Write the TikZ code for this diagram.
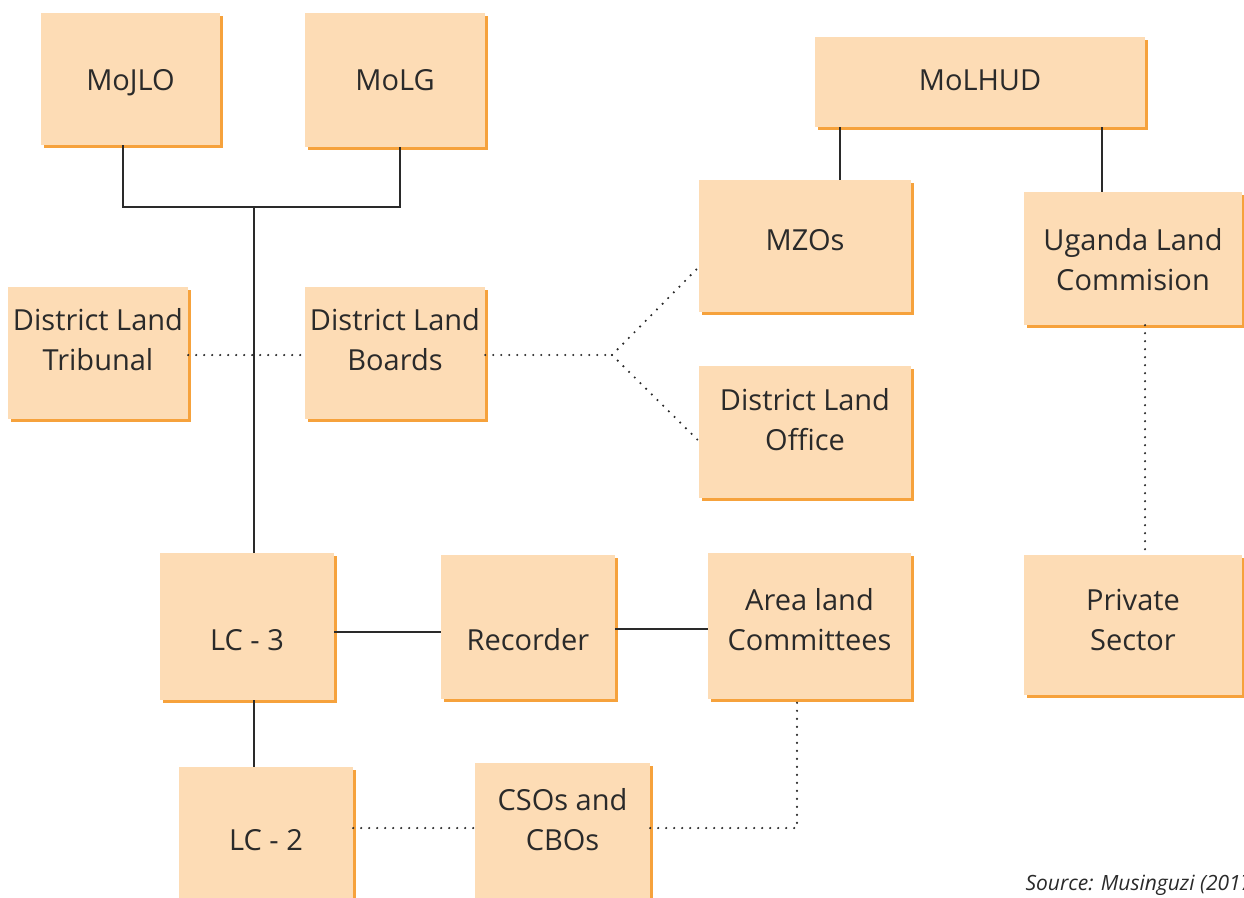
\documentclass[tikz,border=0pt]{standalone}
\usepackage{fontspec}
\setmainfont{Open Sans}
\usetikzlibrary{shadows}

\definecolor{boxfill}{HTML}{FDDCB5}
\definecolor{boxshade}{HTML}{F6A23C}
\definecolor{ink}{HTML}{2A2A2A}

\begin{document}
\begin{tikzpicture}[x=1pt, y=-1pt,
    orgbox/.style={fill=boxfill, draw=none, inner sep=0pt,
      drop shadow={shadow xshift=2.5pt, shadow yshift=-2.5pt, fill=boxshade, opacity=1}},
    orgtext/.style={inner sep=0pt, align=center, text=ink, font=\fontsize{29}{40}\selectfont},
    link/.style={draw=ink, line width=1.3pt},
    dotlink/.style={draw=ink, line width=2.4pt, line cap=round, dash pattern=on 0pt off 8pt}]
  \useasboundingbox (0,0) rectangle (1244,897);
  % ministries
  \node (mojlo) [orgbox, minimum width=179pt, minimum height=132pt] at (130.5,79) {};
  \node (mojlo-t) [orgtext] at (130.5,83) {MoJLO};
  \node (molg) [orgbox, minimum width=180pt, minimum height=134pt] at (395,80) {};
  \node (molg-t) [orgtext] at (395,80) {MoLG};
  \node (molhud) [orgbox, minimum width=330pt, minimum height=90pt] at (980,82) {};
  \node (molhud-t) [orgtext] at (980,80) {MoLHUD};
  % district level
  \node (mzos) [orgbox, minimum width=212pt, minimum height=132pt] at (805,246) {};
  \node (mzos-t) [orgtext] at (805,240) {MZOs};
  \node (ulc) [orgbox, minimum width=218pt, minimum height=133pt] at (1133,258.5) {};
  \node (ulc-t) [orgtext] at (1133,259.5) {Uganda Land\\Commision};
  \node (dlt) [orgbox, minimum width=180pt, minimum height=132pt] at (98,353) {};
  \node (dlt-t) [orgtext] at (98,340) {District Land\\Tribunal};
  \node (dlb) [orgbox, minimum width=180pt, minimum height=132pt] at (395,353) {};
  \node (dlb-t) [orgtext] at (395,340) {District Land\\Boards};
  \node (dlo) [orgbox, minimum width=212pt, minimum height=132pt] at (805,432) {};
  \node (dlo-t) [orgtext] at (805,420) {District Land\\Office};
  % local level
  \node (lc3) [orgbox, minimum width=174pt, minimum height=147pt] at (247,626.5) {};
  \node (lc3-t) [orgtext] at (247,640) {LC - 3};
  \node (rec) [orgbox, minimum width=174pt, minimum height=144pt] at (528,627) {};
  \node (rec-t) [orgtext] at (528,640) {Recorder};
  \node (alc) [orgbox, minimum width=203pt, minimum height=146pt] at (809.5,626) {};
  \node (alc-t) [orgtext] at (809.5,620) {Area land\\Committees};
  \node (ps) [orgbox, minimum width=218pt, minimum height=140pt] at (1133,625) {};
  \node (ps-t) [orgtext] at (1133,620) {Private\\Sector};
  \node (lc2) [orgbox, minimum width=174pt, minimum height=146pt] at (266,840) {};
  \node (lc2-t) [orgtext] at (266,840) {LC - 2};
  \node (cso) [orgbox, minimum width=175pt, minimum height=146pt] at (562.5,836) {};
  \node (cso-t) [orgtext] at (562.5,820) {CSOs and\\CBOs};

  \coordinate (join) at (254,207);
  \coordinate (fork) at (612,355);

  % solid links
  \draw[link] ([xshift=-7.5pt]mojlo.south) |- (join) -| ([xshift=5pt]molg.south);
  \draw[link] (join) -- (join |- lc3.north);
  \draw[link] ([xshift=7pt]lc3.south) -- ([xshift=7pt]lc3.south |- lc2.north);
  \draw[link] ([yshift=-5.5pt]lc3.east) -- ([yshift=-5.5pt]lc3.east -| rec.west);
  \draw[link] ([yshift=-2pt]rec.east) -- ([yshift=-2pt]rec.east -| alc.west);
  \draw[link] ([xshift=-140pt]molhud.south) -- ([xshift=-140pt]molhud.south |- mzos.north);
  \draw[link] ([xshift=122pt]molhud.south) -- ([xshift=122pt]molhud.south |- ulc.north);

  % dotted links
  \draw[dotlink] ([yshift=-2pt]dlt.east) -- ([yshift=-2pt]dlb.west);
  \draw[dotlink] ([yshift=-2pt]dlb.east) -- (fork);
  \draw[dotlink] (fork) -- ([yshift=-21pt]mzos.west);
  \draw[dotlink] (fork) -- ([yshift=-9pt]dlo.west);
  \draw[dotlink] ([xshift=12pt]ulc.south) -- ([xshift=12pt]ulc.south |- ps.north);
  \draw[dotlink] ([yshift=12pt]lc2.east) -- ([yshift=12pt]lc2.east -| cso.west);
  \draw[dotlink] ([yshift=8pt]cso.east) -| ([xshift=-12.5pt]alc.south);

  \node (src) [anchor=base west, text=ink, font=\fontsize{21}{25}\selectfont\itshape] at (1022,890) {Source: Musinguzi (2017)};
\end{tikzpicture}
\end{document}
